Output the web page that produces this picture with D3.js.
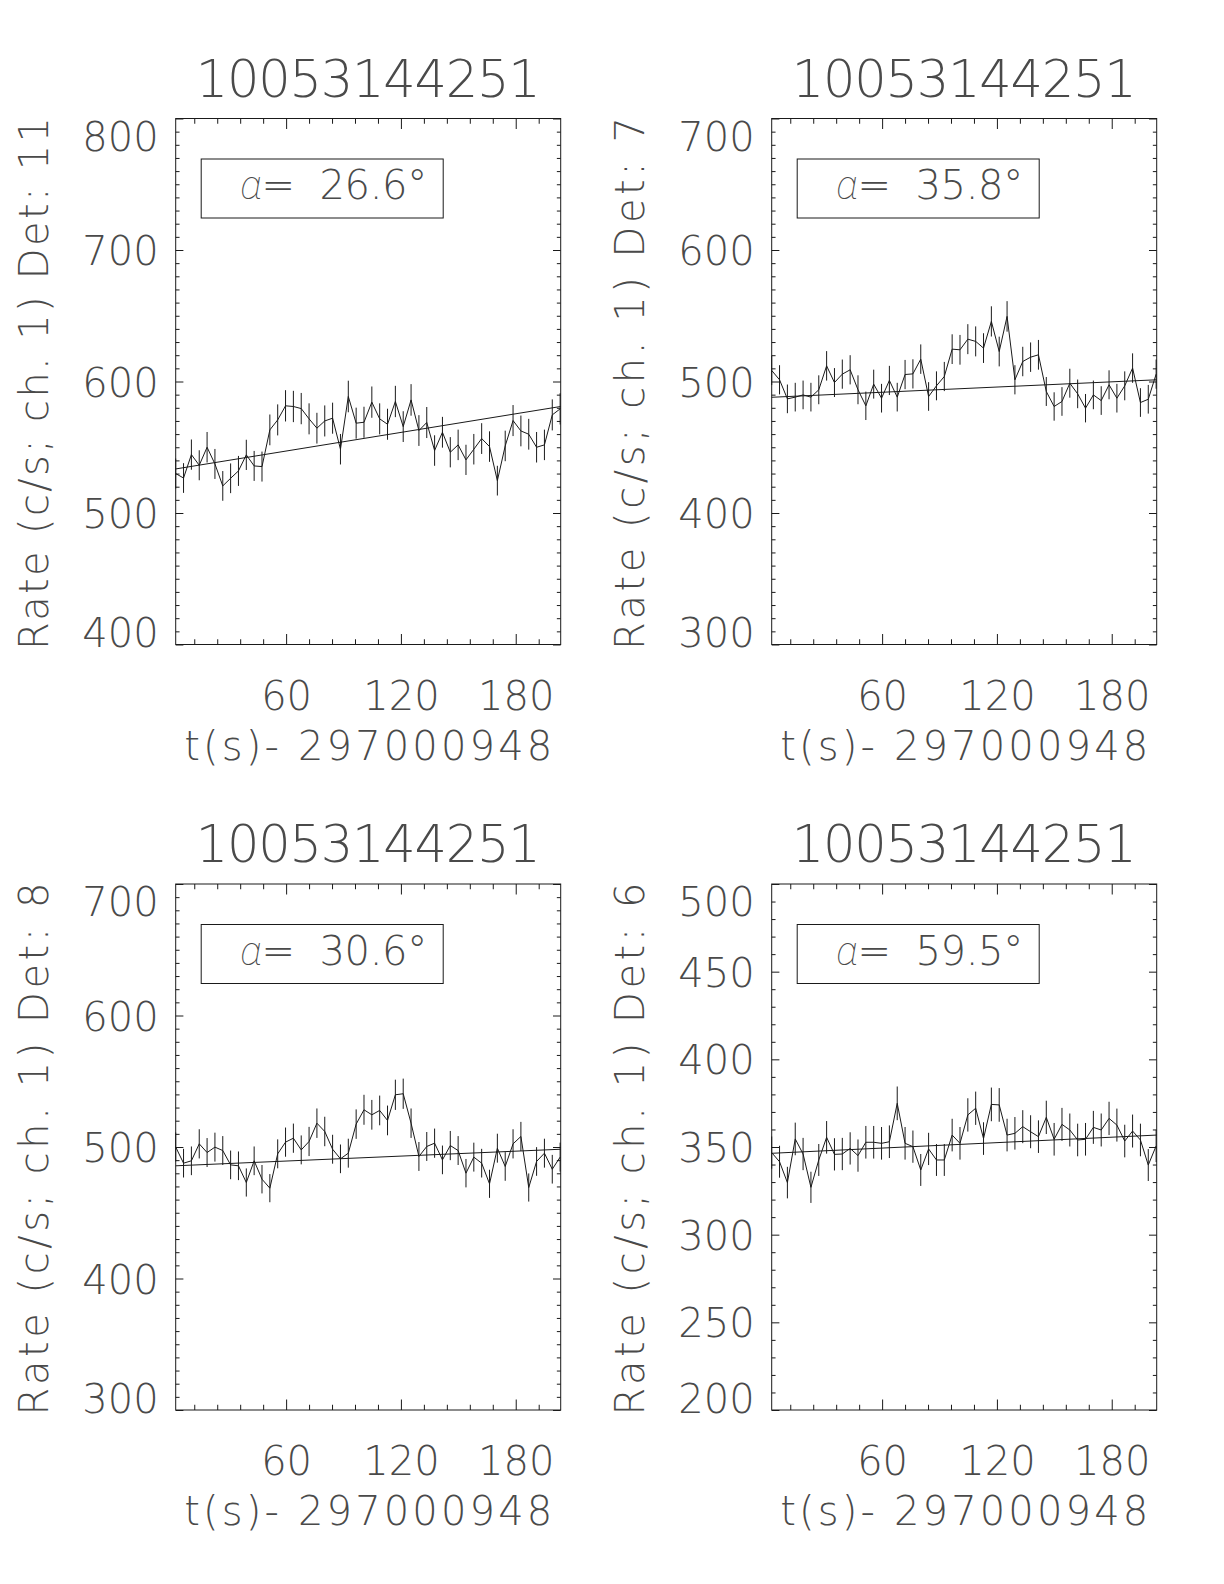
<!DOCTYPE html>
<html>
<head>
<meta charset="utf-8">
<script src="https://cdn.jsdelivr.net/npm/d3@7/dist/d3.min.js"></script>
<style>
  html, body { margin: 0; padding: 0; background: #fff; }
  svg { display: block; }
  text { font-family: "DejaVu Sans", "Liberation Sans", sans-serif; font-weight: 200; fill: #4a4a4a; }
</style>
</head>
<body>
<svg id="chart" width="1224" height="1584"></svg>
<script>
// ---------------- DATA ----------------
const titleText = "10053144251";
const xLabelText = "t(s)- 297000948";
const detectors = [11, 7, 8, 6];
const alphaLabels = ["26.6", "35.8", "30.6", "59.5"];
const xDomain = [2.3, 203.5];
const xMajorTicks = [60, 120, 180];
const xMinorTicks = [12, 24, 36, 48, 72, 84, 96, 108, 132, 144, 156, 168, 192];

const times = [2.3, 6.4, 10.5, 14.6, 18.7, 22.8, 26.9, 31.0, 35.1, 39.2,
  43.3, 47.4, 51.5, 55.6, 59.7, 63.8, 67.9, 72.0, 76.1, 80.2,
  84.3, 88.4, 92.5, 96.6, 100.7, 104.8, 108.9, 113.0, 117.1, 121.2,
  125.3, 129.4, 133.5, 137.6, 141.7, 145.8, 149.9, 154.0, 158.1, 162.2,
  166.3, 170.4, 174.5, 178.6, 182.7, 186.8, 190.9, 195.0, 199.1, 203.2];

const rateDet11 = [530, 526.6, 544.4, 536.3, 550, 537.3, 520.6, 526.4, 532, 544.2,
  535.8, 535.3, 563.2, 570.8, 581.5, 581, 579.4, 571.6, 564.5, 570,
  572.1, 548.5, 588.6, 568.3, 569, 584.3, 571.6, 567.5, 584.8, 565.7,
  586, 562.7, 568.8, 547.5, 561.4, 546.2, 551.8, 540.4, 548.5, 556.6,
  550.5, 524.6, 551, 570.3, 562.4, 559.9, 550, 551.8, 574.6, 579.2];
const errDet11 = [11.4, 11.3, 11.5, 11.4, 11.6, 11.4, 11.3, 11.3, 11.4, 11.5,
  11.4, 11.4, 11.7, 11.8, 11.9, 11.9, 11.9, 11.8, 11.7, 11.8,
  11.8, 11.6, 12.0, 11.8, 11.8, 11.9, 11.8, 11.8, 11.9, 11.7,
  12.0, 11.7, 11.8, 11.6, 11.7, 11.5, 11.6, 11.5, 11.6, 11.7,
  11.6, 11.3, 11.6, 11.8, 11.7, 11.7, 11.6, 11.6, 11.8, 11.9];

const rateDet7 = [508.4, 501.3, 486.8, 488.1, 489.8, 488.1, 493.7, 511.9, 499.2, 505.6,
  508.9, 493.7, 481.5, 498, 487.3, 500.8, 488.1, 505.3, 505.8, 517,
  488.6, 496.7, 503.8, 524.6, 524.1, 532.2, 530.5, 525.4, 545.7, 522.8,
  549.5, 501.3, 515.2, 518.5, 520.3, 492.4, 481, 484.8, 498.7, 490.6,
  479.7, 489.8, 485.5, 497.5, 487.3, 496.7, 510.2, 484, 486.5, 505.6];
const errDet7 = [11.1, 11.1, 10.9, 10.9, 10.9, 10.9, 11.0, 11.2, 11.0, 11.1,
  11.1, 11.0, 10.8, 11.0, 10.9, 11.1, 10.9, 11.1, 11.1, 11.2,
  10.9, 11.0, 11.1, 11.3, 11.3, 11.4, 11.4, 11.3, 11.5, 11.3,
  11.6, 11.1, 11.2, 11.2, 11.3, 11.0, 10.8, 10.9, 11.0, 10.9,
  10.8, 10.9, 10.9, 11.0, 10.9, 11.0, 11.2, 10.9, 10.9, 11.1];

const rateDet8 = [500, 487.7, 489.5, 502.4, 495.8, 499.9, 497.3, 486.4, 485.7, 473,
  489.5, 475.5, 468.7, 494.8, 503.7, 506.7, 497.8, 504.2, 518.1, 511.8,
  498.3, 491, 495.3, 517.4, 528.3, 524.5, 527.8, 520.2, 539.7, 540.5,
  518.1, 492.8, 500.4, 502.9, 490.2, 501.1, 497.3, 480.1, 492.3, 487.7,
  472, 499.1, 485.2, 502.4, 508, 469.2, 489, 495.3, 483.1, 492.3];
const errDet8 = [11.0, 10.9, 10.9, 11.1, 11.0, 11.0, 11.0, 10.9, 10.9, 10.7,
  10.9, 10.8, 10.7, 11.0, 11.1, 11.1, 11.0, 11.1, 11.2, 11.2,
  11.0, 10.9, 11.0, 11.2, 11.4, 11.3, 11.3, 11.3, 11.5, 11.5,
  11.2, 11.0, 11.0, 11.1, 10.9, 11.1, 11.0, 10.8, 11.0, 10.9,
  10.7, 11.0, 10.9, 11.1, 11.1, 10.7, 10.9, 11.0, 10.9, 11.0];

const rateDet6 = [346.8, 341.6, 329.7, 354.6, 346, 327, 342.6, 355.5, 345.8, 346,
  349.2, 345.1, 352.7, 352.7, 352.1, 353, 374.9, 352.1, 350.2, 336.9,
  348.9, 342.6, 342.6, 356.8, 352.1, 368.3, 372.1, 354.8, 374.3, 374,
  356.8, 357.8, 361.6, 358.7, 355.9, 366.9, 354.4, 362.9, 359.7, 354,
  354.4, 361.2, 359.7, 366.3, 362.5, 353.4, 359.1, 354, 339.7, 350.6];
const errDet6 = [9.2, 9.1, 9.0, 9.3, 9.2, 8.9, 9.1, 9.3, 9.2, 9.2,
  9.2, 9.2, 9.3, 9.3, 9.3, 9.3, 9.6, 9.3, 9.2, 9.1,
  9.2, 9.1, 9.1, 9.3, 9.3, 9.5, 9.5, 9.3, 9.6, 9.6,
  9.3, 9.3, 9.4, 9.4, 9.3, 9.5, 9.3, 9.4, 9.4, 9.3,
  9.3, 9.4, 9.4, 9.5, 9.4, 9.3, 9.4, 9.3, 9.1, 9.2];

// linear fit values at the x-domain ends
const fitDet11 = [533.5, 581];
const fitDet7 = [488, 501.3];
const fitDet8 = [485.7, 498.3];
const fitDet6 = [346.4, 356.8];

const yDomains = [[400, 800], [300, 700], [300, 700], [200, 500]];
const yMajorTicks = [
  [400, 500, 600, 700, 800],
  [300, 400, 500, 600, 700],
  [300, 400, 500, 600, 700],
  [200, 250, 300, 350, 400, 450, 500]
];
const yMinorStep = [10, 10, 10, 10];

const rates = [rateDet11, rateDet7, rateDet8, rateDet6];
const errs = [errDet11, errDet7, errDet8, errDet6];
const fits = [fitDet11, fitDet7, fitDet8, fitDet6];

// ---------------- LAYOUT ----------------
const panelLeft = [175.7, 771.7, 175.7, 771.7];
const panelTop = [118.5, 118.5, 884, 884];
const W = 385, H = 526;
const FS = 40, CAP = 0.729 * FS;
const INK = "#1a1a1a";

const svg = d3.select("#chart");

for (let p = 0; p < 4; p++) {
  const g = svg.append("g").attr("transform", `translate(${panelLeft[p]},${panelTop[p]})`);
  const x = d3.scaleLinear().domain(xDomain).range([0, W]);
  const y = d3.scaleLinear().domain(yDomains[p]).range([H, 0]);

  const [y0, y1] = yDomains[p];
  const yMinor = d3.range(y0, y1 + 0.001, yMinorStep[p]).filter(v => !yMajorTicks[p].includes(v));

  const axes = [
    d3.axisBottom(x).tickValues(xMinorTicks).tickSize(-5.25).tickFormat(""),
    d3.axisTop(x).tickValues(xMajorTicks).tickSize(-10.5).tickFormat(""),
    d3.axisTop(x).tickValues(xMinorTicks).tickSize(-5.25).tickFormat(""),
    d3.axisLeft(y).tickValues(yMinor).tickSize(-3.85).tickFormat(""),
    d3.axisRight(y).tickValues(yMajorTicks[p]).tickSize(-7.7).tickFormat(""),
    d3.axisRight(y).tickValues(yMinor).tickSize(-3.85).tickFormat("")
  ];
  const trans = [`translate(0,${H})`, null, null, null, `translate(${W},0)`, `translate(${W},0)`];
  axes.forEach((ax, i) => {
    const ag = g.append("g").attr("transform", trans[i]).call(ax);
    ag.select(".domain").remove();
    ag.selectAll(".tick line").attr("stroke", INK).attr("stroke-width", 1);
  });

  // x-axis labelled major ticks
  const xg = g.append("g").attr("transform", `translate(0,${H})`)
    .call(d3.axisBottom(x).tickValues(xMajorTicks).tickSize(-10.5).tickFormat(d3.format("d")));
  xg.select(".domain").remove();
  xg.attr("font-family", null).attr("font-size", null);
  xg.selectAll(".tick line").attr("stroke", INK);
  xg.selectAll(".tick text").attr("y", 65).attr("dy", null)
    .style("font-size", FS + "px").attr("fill", null);

  // y-axis labelled major ticks
  const ticks = yMajorTicks[p];
  const yg = g.append("g")
    .call(d3.axisLeft(y).tickValues(ticks).tickSize(-7.7).tickPadding(17).tickFormat(d3.format("d")));
  yg.select(".domain").remove();
  yg.attr("font-family", null).attr("font-size", null);
  yg.selectAll(".tick line").attr("stroke", INK);
  yg.selectAll(".tick text").attr("dy", null)
    .style("font-size", FS + "px").attr("fill", null)
    .attr("y", d => d === y1 ? CAP + 2.5 : (d === y0 ? 2 : CAP / 2));

  // frame
  g.append("rect").attr("x", 0).attr("y", 0).attr("width", W).attr("height", H)
    .attr("fill", "none").attr("stroke", INK).attr("stroke-width", 1);

  // error bars
  g.append("g").selectAll("line").data(times).join("line")
    .attr("x1", (t) => x(t)).attr("x2", (t) => x(t))
    .attr("y1", (t, i) => y(rates[p][i] - errs[p][i]))
    .attr("y2", (t, i) => y(rates[p][i] + errs[p][i]))
    .attr("stroke", INK).attr("stroke-width", 1);

  // light curve
  const line = d3.line().x((d, i) => x(times[i])).y(d => y(d));
  g.append("path").datum(rates[p]).attr("d", line)
    .attr("fill", "none").attr("stroke", INK).attr("stroke-width", 1);

  // linear fit
  g.append("line")
    .attr("x1", x(xDomain[0])).attr("y1", y(fits[p][0]))
    .attr("x2", x(xDomain[1])).attr("y2", y(fits[p][1]))
    .attr("stroke", INK).attr("stroke-width", 1);

  // alpha box
  g.append("rect").attr("x", 25.5).attr("y", 40.5).attr("width", 242).attr("height", 59)
    .attr("fill", "none").attr("stroke", INK).attr("stroke-width", 1);
  const at = g.append("text").attr("x", 64.5).attr("y", 80.5)
    .attr("textLength", 187).attr("lengthAdjust", "spacing")
    .style("font-size", FS + "px");
  at.append("tspan")
    .style("font-family", "Roboto, 'Open Sans', 'DejaVu Sans', sans-serif")
    .style("font-style", "italic").style("font-weight", "100").text("\u03B1");
  at.append("tspan").text("=\u00A0\u00A0" + alphaLabels[p] + "\u00B0");

  // title
  g.append("text").attr("x", W / 2).attr("y", -22).attr("text-anchor", "middle")
    .attr("textLength", 345).attr("lengthAdjust", "spacing")
    .style("font-size", "51px").text(titleText);

  // x label
  g.append("text").attr("x", W / 2).attr("y", H + 115).attr("text-anchor", "middle")
    .attr("textLength", 368).attr("lengthAdjust", "spacing")
    .style("font-size", FS + "px").text(xLabelText);

  // y label
  g.append("text").attr("transform", `translate(-128,${H / 2 + 2}) rotate(-90)`)
    .attr("text-anchor", "middle")
    .attr("textLength", 533).attr("lengthAdjust", "spacing")
    .style("font-size", FS + "px").text(`Rate (c/s; ch. 1) Det: ${detectors[p]}`);
}
</script>
</body>
</html>
